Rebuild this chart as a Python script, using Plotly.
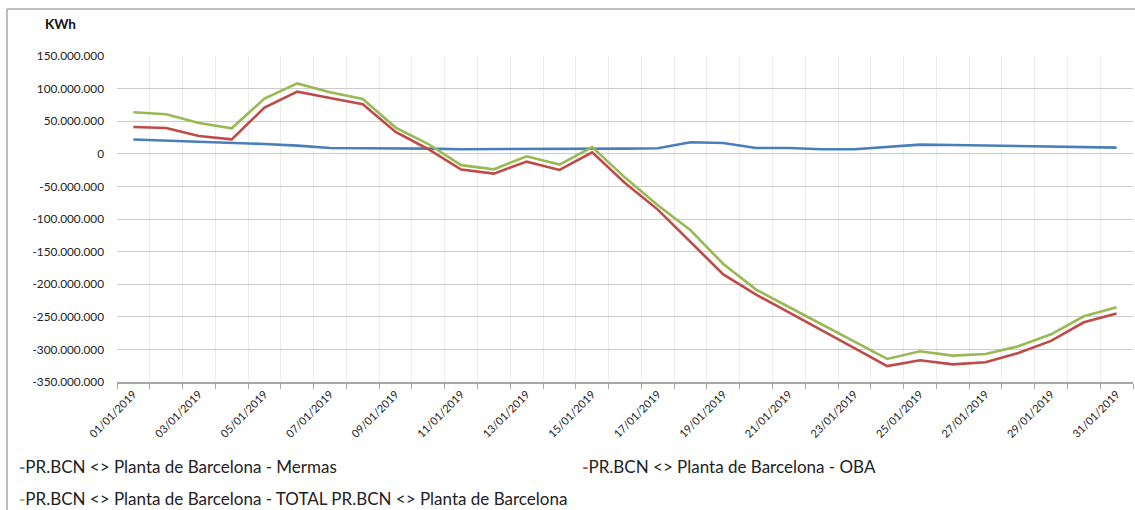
import plotly.graph_objects as go

# ---------------- data (values in millions of KWh) ----------------
dates = [f"{d:02d}/01/2019" for d in range(1, 32)]

mermas = [22, 20.5, 19, 17, 15, 12.5, 9, 8.5, 8.5, 8, 7, 7, 8, 8, 8, 8,
          8.4, 17.6, 16.6, 9, 9, 7, 7, 10.4, 14, 13.5, 12.6, 11.5, 10.5, 10, 9.5]
oba = [41, 39.6, 27.3, 22.2, 70.9, 95.4, 85.6, 75.9, 33.4, 7, -24.2, -30.4,
       -12, -24.8, 2.3, -44.8, -85.6, -134.7, -185, -216, -243, -270.7, -298,
       -325.5, -316.7, -322.9, -319.8, -305.5, -287, -258.4, -245]
total = [63.7, 60.6, 47.3, 39.1, 84.7, 108, 94.3, 84, 40.2, 15, -17.4, -23.8,
         -3.8, -16.6, 10.4, -36.5, -79, -117.3, -169, -208.3, -235, -261.6,
         -288, -314.7, -302.9, -309.5, -307, -295.2, -276.8, -249.2, -235.4]

series_names = ["PR.BCN <> Planta de Barcelona - Mermas",
                "PR.BCN <> Planta de Barcelona - OBA",
                "PR.BCN <> Planta de Barcelona - TOTAL PR.BCN <> Planta de Barcelona"]
colors = ["#4A7EBB", "#BE4B48", "#98B954"]

y_tickvals = [150, 100, 50, 0, -50, -100, -150, -200, -250, -300, -350]
y_ticktext = ["150.000.000", "100.000.000", "50.000.000", "0", "-50.000.000",
              "-100.000.000", "-150.000.000", "-200.000.000", "-250.000.000",
              "-300.000.000", "-350.000.000"]
unit_label = "KWh"

# ---------------- layout geometry (pixels) ----------------
W, H = 1135, 510
L, R, T, B = 117, 1132.7, 56, 382
PW, PH = R - L, B - T


def px(x):
    return (x - L) / PW


def py(y):
    return (B - y) / PH


FONT = "Lato, 'Liberation Sans', Arial, sans-serif"

fig = go.Figure()
for vals, name, col in zip([mermas, oba, total], series_names, colors):
    fig.add_trace(go.Scatter(
        x=dates, y=[v * 1e6 for v in vals], mode="lines", name=name,
        line=dict(color=col, width=2.6), showlegend=False, legendgroup=name))

# legend entries (Excel-style short key before the text), one legend box each
legend_ids = ["legend", "legend2", "legend3"]
legend_pos = [(21, 449), (584, 449), (21, 481)]   # (text-left px, top px)
for name, col, lg in zip(series_names, colors, legend_ids):
    safe = name.replace("<", "&lt;").replace(">", "&gt;")
    fig.add_trace(go.Scatter(
        x=[None], y=[None], mode="lines", line=dict(color=col, width=0),
        name=f"<span style='color:{col}'><b>-</b></span>{safe}",
        legendgroup=name, legend=lg, showlegend=True, hoverinfo="skip"))

legend_common = dict(orientation="h", xanchor="left", yanchor="top",
                     font=dict(size=17, family=FONT, color="#222222"),
                     bgcolor="rgba(0,0,0,0)", itemclick=False,
                     itemdoubleclick=False)
legend_layout = {}
for lg, (lx, ly) in zip(legend_ids, legend_pos):
    legend_layout[lg] = dict(legend_common, x=px(lx - 42), y=py(ly))

fig.update_layout(
    width=W, height=H,
    margin=dict(l=L, r=W - R, t=T, b=H - B, autoexpand=False),
    paper_bgcolor="white", plot_bgcolor="white",
    font=dict(family=FONT, color="#222222"),
    showlegend=True,
    **legend_layout,
)

fig.update_xaxes(
    type="category", range=[-0.5, len(dates) - 0.5],
    tickmode="array", tickvals=dates,
    ticktext=[d if i % 2 == 0 else "" for i, d in enumerate(dates)],
    tickson="boundaries", ticks="outside", ticklen=5, tickcolor="#a6a6a6",
    tickwidth=1, tickangle=-45, tickfont=dict(size=11, family=FONT, color="#222"),
    showgrid=True, gridcolor="#ececec", gridwidth=1,
    showline=True, linecolor="#a6a6a6", linewidth=1.5, zeroline=False,
)
fig.update_yaxes(
    range=[-350e6, 150e6], tickmode="array",
    tickvals=[v * 1e6 for v in y_tickvals], ticktext=y_ticktext,
    tickfont=dict(size=11.8, family=FONT, color="#222"),
    showgrid=True, gridcolor="#cccccc", gridwidth=1.4,
    zeroline=False, showline=False, ticks="", ticklabelstandoff=12,
)

# outer chart border (top and left edges visible)
fig.add_shape(type="line", xref="paper", yref="paper", x0=px(7), x1=px(1135),
              y0=py(9), y1=py(9), line=dict(color="#a8a8a8", width=1.5))
fig.add_shape(type="line", xref="paper", yref="paper", x0=px(7), x1=px(7),
              y0=py(9), y1=py(510), line=dict(color="#a8a8a8", width=1.5))

fig.add_annotation(text=f"<b>{unit_label}</b>", xref="paper", yref="paper",
                   x=px(61), y=py(24), xanchor="center", yanchor="middle",
                   showarrow=False, font=dict(size=13.5, family=FONT, color="#111"))

fig.write_html("out.html", config={"displayModeBar": False},
               post_script="document.body.style.margin='0';"
                           "document.body.style.overflow='hidden';")
